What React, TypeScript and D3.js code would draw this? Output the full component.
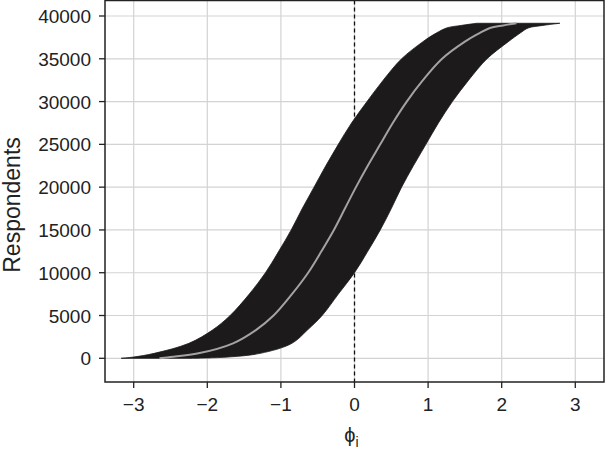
import React from "react";
import * as d3 from "d3";

// Respondents (rank) and the sorted estimates of phi_i with interval bounds
const respondents = [0, 150, 580, 1750, 3300, 5000, 7500, 10000, 12500, 15000, 17500, 20000, 22500, 25000, 27500, 30000, 32500, 35000, 37000, 38000, 38600, 38900, 39150];
const estimate = [-2.65, -2.5, -2.12, -1.65, -1.34, -1.1, -0.85, -0.63, -0.45, -0.28, -0.13, 0.02, 0.18, 0.35, 0.52, 0.71, 0.93, 1.19, 1.5, 1.7, 1.84, 2.02, 2.2];
const lower = [-3.17, -3.0, -2.72, -2.25, -1.93, -1.69, -1.43, -1.21, -1.03, -0.86, -0.71, -0.55, -0.39, -0.22, -0.04, 0.17, 0.39, 0.64, 0.93, 1.11, 1.25, 1.45, 1.66];
const upper = [-2.2, -1.72, -1.28, -0.85, -0.64, -0.44, -0.22, 0.0, 0.18, 0.35, 0.5, 0.64, 0.8, 0.97, 1.14, 1.33, 1.55, 1.8, 2.09, 2.25, 2.36, 2.56, 2.79];

const xTicks = [-3, -2, -1, 0, 1, 2, 3];
const yTicks = [0, 5000, 10000, 15000, 20000, 25000, 30000, 35000, 40000];

const W = 605;
const H = 451;
const left = 105;
const right = 604;
const top = 0.5;
const bottom = 382;

export default function App() {
  const x = d3.scaleLinear().domain([-3.39, 3.39]).range([left, right]);
  const y = d3.scaleLinear().domain([0, 40000]).range([358.3, 16]);

  const rows = respondents.map((n, i) => ({ n, est: estimate[i], lo: lower[i], hi: upper[i] }));

  const band = d3
    .area<any>()
    .y((d) => y(d.n))
    .x0((d) => x(d.lo))
    .x1((d) => x(d.hi))
    .curve(d3.curveCatmullRom.alpha(0.5))(rows);

  const line = d3
    .line<any>()
    .x((d) => x(d.est))
    .y((d) => y(d.n))
    .curve(d3.curveCatmullRom.alpha(0.5))(rows);

  const font = "'Liberation Sans', Arial, Helvetica, sans-serif";

  return (
    <svg width={W} height={H} style={{ position: "absolute", left: 0, top: 0, background: "#fff" }}>
      <g>
        {xTicks.map((t) => (
          <line key={"gx" + t} x1={x(t)} x2={x(t)} y1={top} y2={bottom} stroke="#d3d3d3" strokeWidth={1.2} />
        ))}
        {yTicks.map((t) => (
          <line key={"gy" + t} x1={left} x2={right} y1={y(t)} y2={y(t)} stroke="#d3d3d3" strokeWidth={1.2} />
        ))}
      </g>
      <line x1={x(0)} x2={x(0)} y1={top} y2={bottom} stroke="#111" strokeWidth={1.3} strokeDasharray="4,3" />
      <path d={band || ""} fill="#1c1a1b" stroke="#1c1a1b" strokeWidth={0.8} />
      <path d={line || ""} fill="none" stroke="#a3a3a3" strokeWidth={2} />
      <rect x={left} y={top} width={right - left} height={bottom - top} fill="none" stroke="#222" strokeWidth={1.5} />
      {xTicks.map((t) => (
        <g key={"tx" + t}>
          <line x1={x(t)} x2={x(t)} y1={bottom} y2={bottom + 6} stroke="#222" strokeWidth={1.3} />
          <text x={x(t)} y={bottom + 29} textAnchor="middle" fontFamily={font} fontSize={19} fill="#222">
            {t < 0 ? "\u2212" + Math.abs(t) : String(t)}
          </text>
        </g>
      ))}
      {yTicks.map((t) => (
        <g key={"ty" + t}>
          <line x1={left - 6} x2={left} y1={y(t)} y2={y(t)} stroke="#222" strokeWidth={1.3} />
          <text x={left - 14} y={y(t) + 7} textAnchor="end" fontFamily={font} fontSize={19} fill="#222">
            {String(t)}
          </text>
        </g>
      ))}
      <text x={x(0) - 3} y={442} textAnchor="middle" fontFamily={font} fontSize={20} fill="#222">
        {"\u03D5"}
        <tspan fontSize={14} dy={5}>i</tspan>
      </text>
      <text
        transform={`translate(20, 205) rotate(-90)`}
        textAnchor="middle"
        fontFamily={font}
        fontSize={23}
        fill="#222"
      >
        Respondents
      </text>
    </svg>
  );
}
